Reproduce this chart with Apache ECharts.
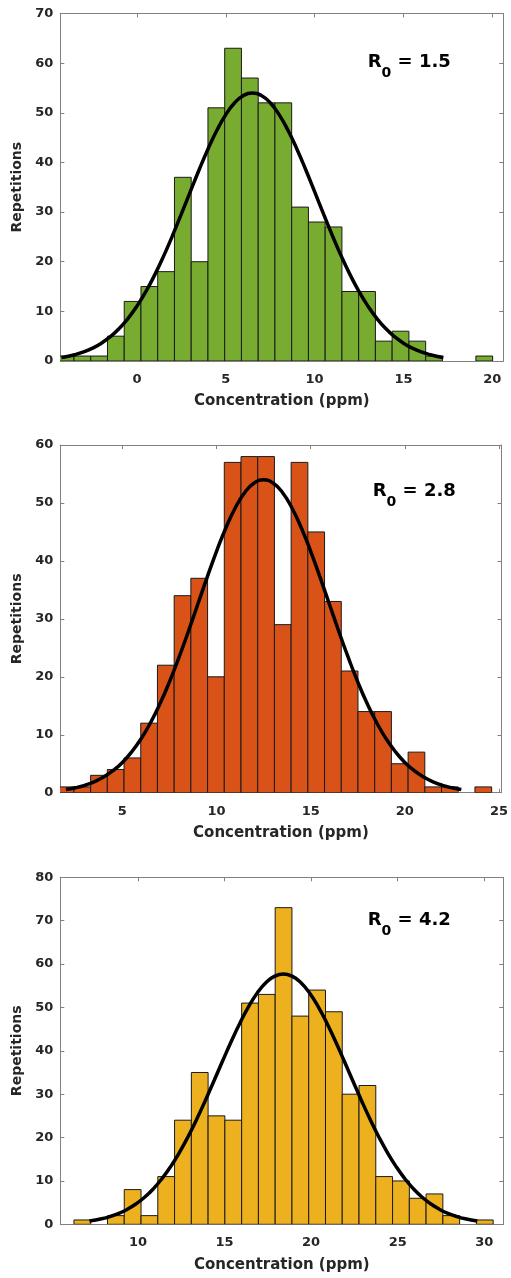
<!DOCTYPE html>
<html><head><meta charset="utf-8">
<script src="https://cdn.jsdelivr.net/npm/echarts@6/dist/echarts.min.js"></script>
<style>html,body{margin:0;padding:0;background:#fff}#c{width:511px;height:1278px}</style>
</head><body><div id="c"></div>
<script>
// ---------- DATA ----------
const xTitle = 'Concentration (ppm)';
const yTitle = 'Repetitions';

// Panel 1 (R0 = 1.5)
const p1Label = '1.5';
const p1XTicks = [0, 5, 10, 15, 20];
const p1YMax = 70;
const p1Edges = [-4.488, -3.545, -2.602, -1.660, -0.717, 0.226, 1.168, 2.111, 3.053, 3.996, 4.938, 5.881, 6.824, 7.766, 8.709, 9.651, 10.594, 11.537, 12.479, 13.422, 14.364, 15.307, 16.250, 17.192, 18.135, 19.077, 20.020];
const p1Counts = [1, 1, 1, 5, 12, 15, 18, 37, 20, 51, 63, 57, 52, 52, 31, 28, 27, 14, 14, 4, 6, 4, 1, 0, 0, 1];
const p1CurveX = [-4.25, -4, -3.5, -3, -2.5, -2, -1.5, -1, -0.5, 0, 0.5, 1, 1.5, 2, 2.5, 3, 3.5, 4, 4.5, 5, 5.5, 6, 6.5,
                  7, 7.5, 8, 8.5, 9, 9.5, 10, 10.5, 11, 11.5, 12, 12.5, 13, 13.5, 14, 14.5, 15, 15.5, 16, 16.5, 17, 17.25];
const p1CurveY = [0.71, 0.86, 1.27, 1.83, 2.58, 3.59, 4.89, 6.54, 8.59, 11.06, 13.98, 17.35, 21.13, 25.25, 29.63, 34.10, 38.52, 42.71, 46.47, 49.63, 52.01, 53.50, 54,
                  53.50, 52.01, 49.63, 46.47, 42.71, 38.52, 34.10, 29.63, 25.25, 21.13, 17.35, 13.98, 11.06, 8.59, 6.54, 4.89, 3.59, 2.58, 1.83, 1.27, 0.86, 0.71];

// Panel 2 (R0 = 2.8)
const p2Label = '2.8';
const p2XTicks = [5, 10, 15, 20, 25];
const p2YMax = 60;
const p2Edges = [1.537, 2.425, 3.312, 4.200, 5.087, 5.975, 6.862, 7.750, 8.637, 9.525, 10.412, 11.300, 12.187, 13.075, 13.962, 14.850, 15.737, 16.625, 17.512, 18.400, 19.287, 20.175, 21.062, 21.950, 22.837, 23.725, 24.612];
const p2Counts = [1, 1, 3, 4, 6, 12, 22, 34, 37, 20, 57, 58, 58, 29, 57, 45, 33, 21, 14, 14, 5, 7, 1, 1, 0, 1];
const p2CurveX = [2, 2.5, 3, 3.5, 4, 4.5, 5, 5.5, 6, 6.5, 7, 7.5, 8, 8.5, 9, 9.5, 10, 10.5, 11, 11.5, 12, 12.5,
                  13, 13.5, 14, 14.5, 15, 15.5, 16, 16.5, 17, 17.5, 18, 18.5, 19, 19.5, 20, 20.5, 21, 21.5, 22, 22.5, 23];
const p2CurveY = [0.55, 0.85, 1.27, 1.87, 2.69, 3.79, 5.22, 7.06, 9.34, 12.11, 15.38, 19.12, 23.29, 27.78, 32.47, 37.16, 41.65, 45.73, 49.18, 51.80, 53.44, 54,
                  53.44, 51.80, 49.18, 45.73, 41.65, 37.16, 32.47, 27.78, 23.29, 19.12, 15.38, 12.11, 9.34, 7.06, 5.22, 3.79, 2.69, 1.87, 1.27, 0.85, 0.55];

// Panel 3 (R0 = 4.2)
const p3Label = '4.2';
const p3XTicks = [10, 15, 20, 25, 30];
const p3YMax = 80;
const p3Edges = [6.305, 7.273, 8.242, 9.210, 10.179, 11.147, 12.115, 13.084, 14.052, 15.021, 15.989, 16.957, 17.926, 18.894, 19.863, 20.831, 21.799, 22.768, 23.736, 24.705, 25.673, 26.641, 27.610, 28.578, 29.547, 30.515];
const p3Counts = [1, 0, 2, 8, 2, 11, 24, 35, 25, 24, 51, 53, 73, 48, 54, 49, 30, 32, 11, 10, 6, 7, 2, 0, 1];
const p3CurveX = [7.2, 7.9, 8.4, 8.9, 9.4, 9.9, 10.4, 10.9, 11.4, 11.9, 12.4, 12.9, 13.4, 13.9, 14.4, 14.9, 15.4, 15.9, 16.4, 16.9, 17.4, 17.9, 18.4,
                  18.9, 19.4, 19.9, 20.4, 20.9, 21.4, 21.9, 22.4, 22.9, 23.4, 23.9, 24.4, 24.9, 25.4, 25.9, 26.4, 26.9, 27.4, 27.9, 28.4, 28.9, 29.6];
const p3CurveY = [0.75, 1.27, 1.81, 2.54, 3.49, 4.73, 6.29, 8.23, 10.58, 13.36, 16.59, 20.24, 24.28, 28.62, 33.16, 37.75, 42.25, 46.47, 50.24, 53.38, 55.74, 57.20, 57.7,
                  57.20, 55.74, 53.38, 50.24, 46.47, 42.25, 37.75, 33.16, 28.62, 24.28, 20.24, 16.59, 13.36, 10.58, 8.23, 6.29, 4.73, 3.49, 2.54, 1.81, 1.27, 0.75];

// ---------- LAYOUT / STYLE ----------
const FONT = '"DejaVu Sans", sans-serif';
const AXIS_COLOR = '#808080';
const TEXT_COLOR = '#262626';
const panels = [
  {label: p1Label, ticks: p1XTicks, ymax: p1YMax, edges: p1Edges, counts: p1Counts, cx: p1CurveX, cy: p1CurveY,
   xmin: -4.315, xmax: 20.62, color: '#77AC30', top: 13.5, height: 347.5, tLeft: 367.7, tTop: 44},
  {label: p2Label, ticks: p2XTicks, ymax: p2YMax, edges: p2Edges, counts: p2Counts, cx: p2CurveX, cy: p2CurveY,
   xmin: 1.702, xmax: 25.14, color: '#D95319', top: 445, height: 347.7, tLeft: 372.7, tTop: 473},
  {label: p3Label, ticks: p3XTicks, ymax: p3YMax, edges: p3Edges, counts: p3Counts, cx: p3CurveX, cy: p3CurveY,
   xmin: 5.516, xmax: 31.10, color: '#EDB120', top: 877.3, height: 347, tLeft: 367.7, tTop: 902}
];

const grid = [], xAxis = [], yAxis = [], series = [], title = [];
panels.forEach((p, i) => {
  grid.push({left: 60.3, width: 443, top: p.top, height: p.height, containLabel: false});
  const tickStyle = {show: true, inside: true, length: 4, lineStyle: {color: AXIS_COLOR, width: 1}};
  const lineStyle = {show: true, onZero: false, lineStyle: {color: AXIS_COLOR, width: 1}};
  xAxis.push({
    type: 'value', gridIndex: i, position: 'bottom', min: p.xmin, max: p.xmax,
    axisLine: lineStyle, axisTick: Object.assign({customValues: p.ticks}, tickStyle),
    axisLabel: {customValues: p.ticks, margin: 12, color: TEXT_COLOR, fontFamily: FONT, fontWeight: 'bold', fontSize: 13},
    splitLine: {show: false},
    name: xTitle, nameLocation: 'middle', nameGap: 33,
    nameTextStyle: {color: TEXT_COLOR, fontFamily: FONT, fontWeight: 'bold', fontSize: 15}
  });
  xAxis.push({
    type: 'value', gridIndex: i, position: 'top', min: p.xmin, max: p.xmax,
    axisLine: lineStyle, axisTick: Object.assign({customValues: p.ticks}, tickStyle),
    axisLabel: {show: false}, splitLine: {show: false}
  });
  yAxis.push({
    type: 'value', gridIndex: i, position: 'left', min: 0, max: p.ymax, interval: 10,
    axisLine: lineStyle, axisTick: tickStyle,
    axisLabel: {margin: 7, color: TEXT_COLOR, fontFamily: FONT, fontWeight: 'bold', fontSize: 13},
    splitLine: {show: false},
    name: yTitle, nameLocation: 'middle', nameGap: 32,
    nameTextStyle: {color: TEXT_COLOR, fontFamily: FONT, fontWeight: 'bold', fontSize: 14}
  });
  yAxis.push({
    type: 'value', gridIndex: i, position: 'right', min: 0, max: p.ymax, interval: 10,
    axisLine: lineStyle, axisTick: tickStyle, axisLabel: {show: false}, splitLine: {show: false}
  });
  const bars = p.counts.map((c, k) => [p.edges[k], p.edges[k + 1], c]);
  series.push({
    type: 'custom', xAxisIndex: 2 * i, yAxisIndex: 2 * i, clip: true, silent: true,
    encode: {x: [0, 1], y: 2},
    data: bars,
    renderItem: function (params, api) {
      const x0 = api.value(0), x1 = api.value(1), c = api.value(2);
      if (!c) return {type: 'group', children: []};
      const a = api.coord([x0, 0]), b = api.coord([x1, c]);
      return {type: 'rect', shape: {x: a[0], y: b[1], width: b[0] - a[0], height: a[1] - b[1]},
              style: {fill: p.color, stroke: '#1a1a1a', lineWidth: 1}};
    },
    z: 2
  });
  series.push({
    type: 'line', xAxisIndex: 2 * i, yAxisIndex: 2 * i, smooth: 0.5, showSymbol: false, silent: true,
    data: p.cx.map((x, k) => [x, p.cy[k]]),
    lineStyle: {color: '#000', width: 3.5}, z: 5
  });
  title.push({
    left: p.tLeft, top: p.tTop, padding: 0,
    text: '{a|R}{b|0}{a| = ' + p.label + '}',
    textStyle: {
      rich: {
        a: {fontFamily: FONT, fontWeight: 'bold', fontSize: 18, color: '#000'},
        b: {fontFamily: FONT, fontWeight: 'bold', fontSize: 14, color: '#000', padding: [22, 0, 0, 0]}
      }
    }
  });
});

const chart = echarts.init(document.getElementById('c'));
chart.setOption({animation: false, backgroundColor: '#fff', title, grid, xAxis, yAxis, series});
</script>
</body></html>
